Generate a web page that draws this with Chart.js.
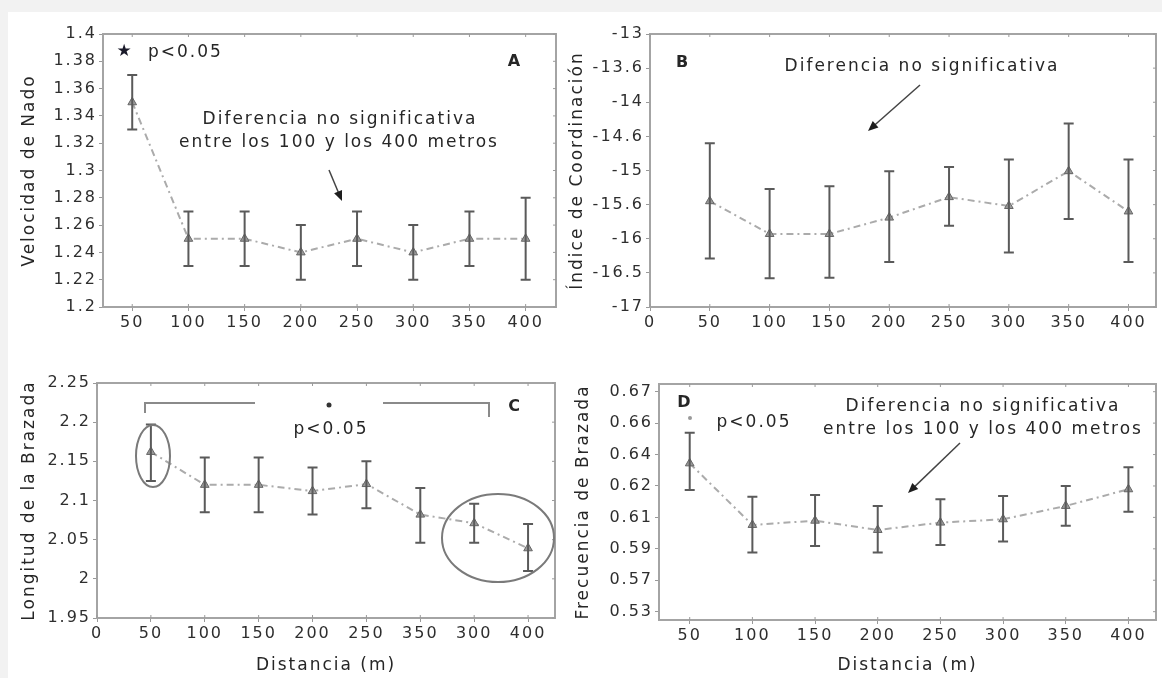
<!DOCTYPE html>
<html>
<head>
<meta charset="utf-8">
<script src="https://cdn.jsdelivr.net/npm/chart.js@4.4.0/dist/chart.umd.min.js"></script>
<style>
    body { margin: 0; width: 1162px; height: 678px; overflow: hidden; position: relative; background: #f2f2f2; }
    #hoja { position: absolute; left: 8px; top: 12px; right: 0; bottom: 0; background: #fff; }
    canvas { position: absolute; }
</style>
</head>
<body>
<div id="hoja"></div>
<canvas id="chart-A" width="555" height="318" style="left:10px;top:14px"></canvas>
<canvas id="chart-B" width="597" height="318" style="left:565px;top:14px"></canvas>
<canvas id="chart-C" width="555" height="313" style="left:10px;top:365px"></canvas>
<canvas id="chart-D" width="597" height="313" style="left:565px;top:365px"></canvas>
<script>
// Distancias (m), igual para los cuatro paneles
const distancias = [50, 100, 150, 200, 250, 300, 350, 400];

// A - Velocidad de Nado (media y extremos de la barra de error)
const velocidadMedia = [1.35, 1.25, 1.25, 1.24, 1.25, 1.24, 1.25, 1.25];
const velocidadSup = [1.37, 1.27, 1.27, 1.26, 1.27, 1.26, 1.27, 1.28];
const velocidadInf = [1.33, 1.23, 1.23, 1.22, 1.23, 1.22, 1.23, 1.22];
const yTicksA = [1.2, 1.22, 1.24, 1.26, 1.28, 1.3, 1.32, 1.34, 1.36, 1.38, 1.4];
const yLabelsA = ['1.2', '1.22', '1.24', '1.26', '1.28', '1.3', '1.32', '1.34', '1.36', '1.38', '1.4'];
const xTicksA = [50, 100, 150, 200, 250, 300, 350, 400];
const xLabelsA = ['50', '100', '150', '200', '250', '300', '350', '400'];

// B - Indice de Coordinacion (las etiquetas del eje van igual de separadas)
const coordMedia = [-15.45, -15.93, -15.93, -15.69, -15.39, -15.52, -15.01, -15.60];
const coordSup = [-14.60, -15.27, -15.23, -15.01, -14.95, -14.84, -14.31, -14.84];
const coordInf = [-16.29, -16.58, -16.57, -16.34, -15.81, -16.20, -15.71, -16.34];
const yTicksB = [-17, -16.5, -16, -15.5, -15, -14.5, -14, -13.5, -13];
const yLabelsB = ['-17', '-16.5', '-16', '-15.6', '-15', '-14.6', '-14', '-13.6', '-13'];
const xTicksB = [0, 50, 100, 150, 200, 250, 300, 350, 400];
const xLabelsB = ['0', '50', '100', '150', '200', '250', '300', '350', '400'];

// C - Longitud de la Brazada (el original rotula 350 antes que 300)
const longitudMedia = [2.162, 2.120, 2.120, 2.112, 2.121, 2.082, 2.071, 2.039];
const longitudSup = [2.197, 2.155, 2.155, 2.142, 2.150, 2.116, 2.096, 2.070];
const longitudInf = [2.125, 2.085, 2.085, 2.082, 2.090, 2.046, 2.046, 2.010];
const yTicksC = [1.95, 2, 2.05, 2.1, 2.15, 2.2, 2.25];
const yLabelsC = ['1.95', '2', '2.05', '2.1', '2.15', '2.2', '2.25'];
const xTicksC = [0, 50, 100, 150, 200, 250, 300, 350, 400];
const xLabelsC = ['0', '50', '100', '150', '200', '250', '350', '300', '400'];

// D - Frecuencia de Brazada
const frecMedia = [0.6244, 0.5852, 0.5879, 0.5820, 0.5867, 0.5888, 0.5973, 0.6079];
const frecSup = [0.6439, 0.6032, 0.6043, 0.5973, 0.6015, 0.6036, 0.6100, 0.6219];
const frecInf = [0.6074, 0.5676, 0.5718, 0.5676, 0.5724, 0.5746, 0.5847, 0.5936];
const yTicksD = [0.53, 0.55, 0.57, 0.59, 0.61, 0.63, 0.65, 0.67];
const yLabelsD = ['0.53', '0.57', '0.59', '0.61', '0.62', '0.64', '0.66', '0.67'];
const xTicksD = [50, 100, 150, 200, 250, 300, 350, 400];
const xLabelsD = ['50', '100', '150', '200', '250', '300', '350', '400'];

Chart.defaults.font.family = '"DejaVu Sans", Verdana, sans-serif';
Chart.defaults.font.size = 16;
Chart.defaults.color = '#2e2e2e';

const TEXTO = '#262626';
const fuenteNota = '17px "DejaVu Sans", Verdana, sans-serif';
const fuenteLetra = 'bold 16px "DejaVu Sans", Verdana, sans-serif';

// Letter spacing for the whole canvas (text in the original is very spread out)
const espaciado = {
    id: 'espaciado',
    beforeLayout(chart) { chart.ctx.letterSpacing = '2px'; },
    beforeDraw(chart) { chart.ctx.letterSpacing = '2px'; }
};

// Box around plot area with small inward ticks
const caja = {
    id: 'caja',
    afterDraw(chart) {
        const { ctx, chartArea: a, scales } = chart;
        ctx.save();
        ctx.strokeStyle = '#a4a4a4';
        ctx.lineWidth = 2;
        ctx.strokeRect(a.left, a.top, a.right - a.left, a.bottom - a.top);
        ctx.strokeStyle = '#9a9a9a';
        ctx.lineWidth = 1;
        ctx.beginPath();
        scales.x.ticks.forEach(t => {
            const px = scales.x.getPixelForValue(t.value);
            ctx.moveTo(px, a.top); ctx.lineTo(px, a.top + 3);
            ctx.moveTo(px, a.bottom); ctx.lineTo(px, a.bottom - 3);
        });
        scales.y.ticks.forEach(t => {
            const py = scales.y.getPixelForValue(t.value);
            ctx.moveTo(a.right, py); ctx.lineTo(a.right - 3, py);
        });
        ctx.stroke();
        ctx.restore();
    }
};

// Error bars drawn from the dataset's sup / inf arrays
const barrasError = {
    id: 'barrasError',
    afterDatasetsDraw(chart) {
        const { ctx, scales } = chart;
        ctx.save();
        ctx.strokeStyle = '#5a5a5a';
        ctx.lineWidth = 2;
        chart.data.datasets.forEach(ds => {
            ds.data.forEach((p, i) => {
                const x = scales.x.getPixelForValue(p.x);
                const y1 = scales.y.getPixelForValue(ds.sup[i]);
                const y2 = scales.y.getPixelForValue(ds.inf[i]);
                ctx.beginPath();
                ctx.moveTo(x, y1); ctx.lineTo(x, y2);
                ctx.moveTo(x - 5, y1); ctx.lineTo(x + 5, y1);
                ctx.moveTo(x - 5, y2); ctx.lineTo(x + 5, y2);
                ctx.stroke();
            });
        });
        ctx.restore();
    }
};

// Notes, arrows, brackets and ellipses (page coordinates)
const notas = {
    id: 'notas',
    afterDraw(chart) {
        const { ctx } = chart;
        const cfg = chart.options.plugins.notas;
        const ox = cfg.left, oy = cfg.top;
        ctx.save();
        ctx.letterSpacing = '2px';
        cfg.items.forEach(it => {
            ctx.fillStyle = it.color || TEXTO;
            ctx.strokeStyle = it.color || '#555';
            if (it.tipo === 'texto') {
                ctx.font = it.font || fuenteNota;
                ctx.textAlign = it.align || 'center';
                ctx.textBaseline = 'middle';
                ctx.fillText(it.text, it.x - ox, it.y - oy);
            } else if (it.tipo === 'flecha') {
                const x1 = it.x1 - ox, y1 = it.y1 - oy, x2 = it.x2 - ox, y2 = it.y2 - oy;
                const ang = Math.atan2(y2 - y1, x2 - x1);
                ctx.lineWidth = 1.5;
                ctx.strokeStyle = '#444';
                ctx.fillStyle = '#1e1e1e';
                ctx.beginPath();
                ctx.moveTo(x1, y1);
                ctx.lineTo(x2 - 6 * Math.cos(ang), y2 - 6 * Math.sin(ang));
                ctx.stroke();
                ctx.beginPath();
                ctx.moveTo(x2, y2);
                ctx.lineTo(x2 - 11 * Math.cos(ang - 0.4), y2 - 11 * Math.sin(ang - 0.4));
                ctx.lineTo(x2 - 11 * Math.cos(ang + 0.4), y2 - 11 * Math.sin(ang + 0.4));
                ctx.closePath();
                ctx.fill();
            } else if (it.tipo === 'linea') {
                ctx.lineWidth = 2;
                ctx.strokeStyle = '#8a8a8a';
                ctx.beginPath();
                it.puntos.forEach((p, k) => k ? ctx.lineTo(p[0] - ox, p[1] - oy) : ctx.moveTo(p[0] - ox, p[1] - oy));
                ctx.stroke();
            } else if (it.tipo === 'elipse') {
                ctx.lineWidth = 2;
                ctx.strokeStyle = '#7a7a7a';
                ctx.beginPath();
                ctx.ellipse(it.x - ox, it.y - oy, it.rx, it.ry, 0, 0, Math.PI * 2);
                ctx.stroke();
            } else if (it.tipo === 'punto') {
                ctx.fillStyle = it.color || '#333';
                ctx.beginPath();
                ctx.arc(it.x - ox, it.y - oy, it.r, 0, Math.PI * 2);
                ctx.fill();
            }
        });
        ctx.restore();
    }
};

function crearPanel(p) {
    const canvas = document.getElementById(p.id);
    return new Chart(canvas, {
        type: 'line',
        data: {
            datasets: [{
                data: distancias.map((d, i) => ({ x: d, y: p.media[i] })),
                sup: p.sup,
                inf: p.inf,
                borderColor: '#ababab',
                borderWidth: 2,
                borderDash: [7, 4, 2, 4],
                pointStyle: 'triangle',
                pointRadius: 5,
                pointBackgroundColor: '#9a9a9a',
                pointBorderColor: '#666',
                pointBorderWidth: 1
            }]
        },
        options: {
            responsive: false,
            animation: false,
            layout: { padding: { top: p.padTop, right: p.padRight, left: 0, bottom: 0 } },
            plugins: {
                legend: { display: false },
                tooltip: { enabled: false },
                notas: { left: p.left, top: p.top, items: p.notas }
            },
            scales: {
                x: {
                    type: 'linear',
                    min: p.xMin,
                    max: p.xMax,
                    afterBuildTicks: s => { s.ticks = p.xTicks.map(v => ({ value: v })); },
                    afterFit: s => { s.height = p.xHeight; },
                    grid: { drawOnChartArea: false, tickLength: 4, color: '#999' },
                    border: { display: false },
                    ticks: {
                        autoSkip: false, maxRotation: 0, padding: 2,
                        callback: (v, i) => p.xLabels[i]
                    },
                    title: p.xTitle ? {
                        display: true, text: p.xTitle, color: TEXTO,
                        font: { size: 17 }, padding: { top: 0, bottom: 2 }
                    } : { display: false }
                },
                y: {
                    min: p.yMin,
                    max: p.yMax,
                    afterBuildTicks: s => { s.ticks = p.yTicks.map(v => ({ value: v })); },
                    afterFit: s => { s.width = p.yWidth; },
                    grid: { drawOnChartArea: false, tickLength: 4, color: '#999' },
                    border: { display: false },
                    ticks: {
                        autoSkip: false, padding: 2,
                        callback: (v, i) => p.yLabels[i]
                    },
                    title: {
                        display: true, text: p.yTitle, color: TEXTO,
                        font: { size: 17 }, padding: { top: p.yTitlePad, bottom: 0 }
                    }
                }
            }
        },
        plugins: [espaciado, barrasError, caja, notas]
    });
}

crearPanel({
    id: 'chart-A', left: 10, top: 14, padTop: 20, padRight: 9, xHeight: 25, yWidth: 93, yTitlePad: 9,
    media: velocidadMedia, sup: velocidadSup, inf: velocidadInf,
    xMin: 24, xMax: 427, xTicks: xTicksA, xLabels: xLabelsA,
    yMin: 1.2, yMax: 1.4, yTicks: yTicksA, yLabels: yLabelsA,
    yTitle: 'Velocidad de Nado',
    notas: [
        { tipo: 'texto', text: '★', x: 125, y: 52, font: '17px "DejaVu Sans", sans-serif', color: '#1a1a2a' },
        { tipo: 'texto', text: 'p<0.05', x: 148, y: 53, align: 'left' },
        { tipo: 'texto', text: 'A', x: 515, y: 62, font: fuenteLetra },
        { tipo: 'texto', text: 'Diferencia no significativa', x: 340, y: 120 },
        { tipo: 'texto', text: 'entre los 100 y los 400 metros', x: 339, y: 143 },
        { tipo: 'flecha', x1: 329, y1: 170, x2: 342, y2: 201 }
    ]
});

crearPanel({
    id: 'chart-B', left: 565, top: 14, padTop: 20, padRight: 0, xHeight: 25, yWidth: 85, yTitlePad: 2,
    media: coordMedia, sup: coordSup, inf: coordInf,
    xMin: 0, xMax: 423, xTicks: xTicksB, xLabels: xLabelsB,
    yMin: -17, yMax: -13, yTicks: yTicksB, yLabels: yLabelsB,
    yTitle: 'Índice de Coordinación',
    notas: [
        { tipo: 'texto', text: 'B', x: 683, y: 63, font: fuenteLetra },
        { tipo: 'texto', text: 'Diferencia no significativa', x: 922, y: 67 },
        { tipo: 'flecha', x1: 920, y1: 85, x2: 868, y2: 131 }
    ]
});

crearPanel({
    id: 'chart-C', left: 10, top: 365, padTop: 18, padRight: 10, xHeight: 60, yWidth: 87, yTitlePad: 9,
    media: longitudMedia, sup: longitudSup, inf: longitudInf,
    xMin: 0, xMax: 425, xTicks: xTicksC, xLabels: xLabelsC,
    yMin: 1.95, yMax: 2.25, yTicks: yTicksC, yLabels: yLabelsC,
    yTitle: 'Longitud de la Brazada', xTitle: 'Distancia (m)',
    notas: [
        { tipo: 'linea', puntos: [[145, 413], [145, 403], [255, 403]] },
        { tipo: 'linea', puntos: [[383, 403], [489, 403], [489, 417]] },
        { tipo: 'punto', x: 329, y: 405, r: 2.5 },
        { tipo: 'texto', text: 'p<0.05', x: 331, y: 430 },
        { tipo: 'texto', text: 'C', x: 515, y: 407, font: fuenteLetra },
        { tipo: 'elipse', x: 153, y: 456, rx: 17, ry: 31 },
        { tipo: 'elipse', x: 498, y: 538, rx: 56, ry: 44 }
    ]
});

crearPanel({
    id: 'chart-D', left: 565, top: 365, padTop: 19, padRight: 0, xHeight: 58, yWidth: 94, yTitlePad: 8,
    media: frecMedia, sup: frecSup, inf: frecInf,
    xMin: 25.5, xMax: 422, xTicks: xTicksD, xLabels: xLabelsD,
    yMin: 0.5247, yMax: 0.6749, yTicks: yTicksD, yLabels: yLabelsD,
    yTitle: 'Frecuencia de Brazada', xTitle: 'Distancia (m)',
    notas: [
        { tipo: 'texto', text: 'D', x: 685, y: 403, font: fuenteLetra },
        { tipo: 'punto', x: 690, y: 418, r: 2, color: '#999' },
        { tipo: 'texto', text: 'p<0.05', x: 754, y: 423 },
        { tipo: 'texto', text: 'Diferencia no significativa', x: 983, y: 407 },
        { tipo: 'texto', text: 'entre los 100 y los 400 metros', x: 983, y: 430 },
        { tipo: 'flecha', x1: 960, y1: 443, x2: 908, y2: 493 }
    ]
});
</script>
</body>
</html>
